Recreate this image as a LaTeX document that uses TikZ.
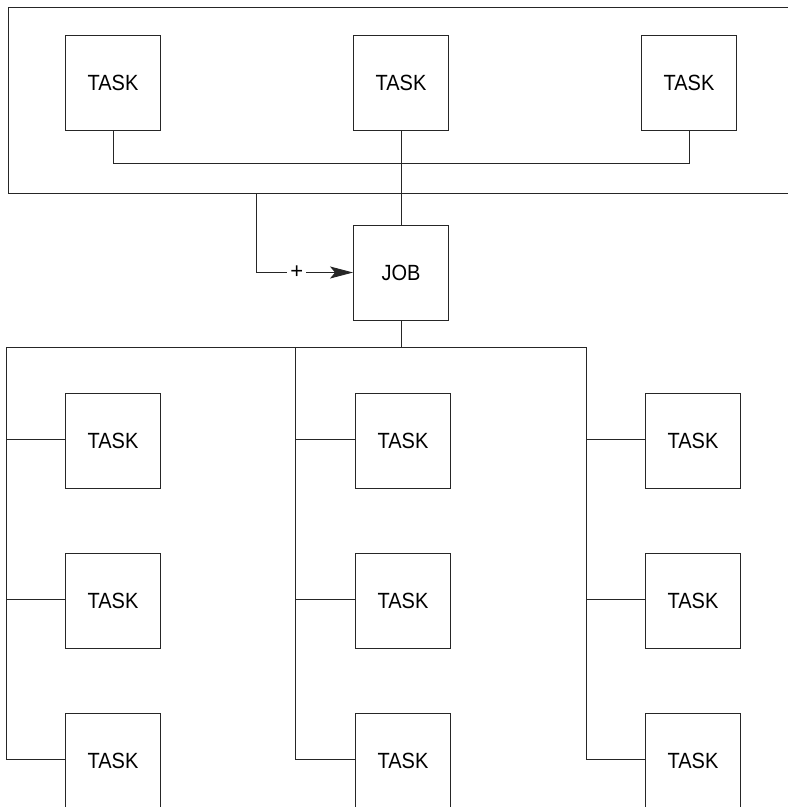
\documentclass[tikz,border=0pt]{standalone}
\usepackage{fontspec}
\setmainfont{Liberation Sans}
\usetikzlibrary{arrows.meta}
\newcommand{\tall}[1]{\scalebox{1}[1.1]{#1}}

\begin{document}
\begin{tikzpicture}[x=1pt, y=-1pt, line width=0.9pt, draw=black!85,
  taskbox/.style={draw, minimum width=95pt, minimum height=95pt, inner sep=0pt, font=\fontsize{20}{24}\selectfont}]
  \useasboundingbox (0,0) rectangle (788,807);
  % upper group, open to the right
  \draw (792,7) -- (8,7) -- (8,193) -- (792,193);
  \node[taskbox] (top1) at (113,83) {\tall{TASK}}; \node[taskbox] (top2) at (401,83) {\tall{TASK}}; \node[taskbox] (top3) at (689,83) {\tall{TASK}};
  \node[taskbox] (job) at (401,272.5) {\tall{JOB}};
  \draw (top1.south) -- ++(0,32) -| (top3.south); \draw (top2.south) -- (job.north);
  \coordinate (feed) at (256,193);
  \draw[-{Stealth[length=23pt,width=12pt,inset=5pt]}] (feed) |- node[pos=0.71, fill=white, inner sep=3pt, font=\fontsize{22}{24}\selectfont] {+} (job.west);
  % lower group
  \draw (job.south) -- ++(0,27) coordinate (hub); \draw (6,347) -- (586,347);
  \foreach \col/\bx/\lx in {a/113/6, b/403/295, c/693/586} {
    \draw (\lx,347) -- (\lx,760);
    \foreach \row/\by in {1/441, 2/601, 3/761} {
      \node[taskbox] (\col\row) at (\bx,\by) {\tall{TASK}};
      \draw (\lx,\by-1.5) -- (\col\row.west |- 0,\by-1.5);
    }
  }
\end{tikzpicture}
\end{document}
